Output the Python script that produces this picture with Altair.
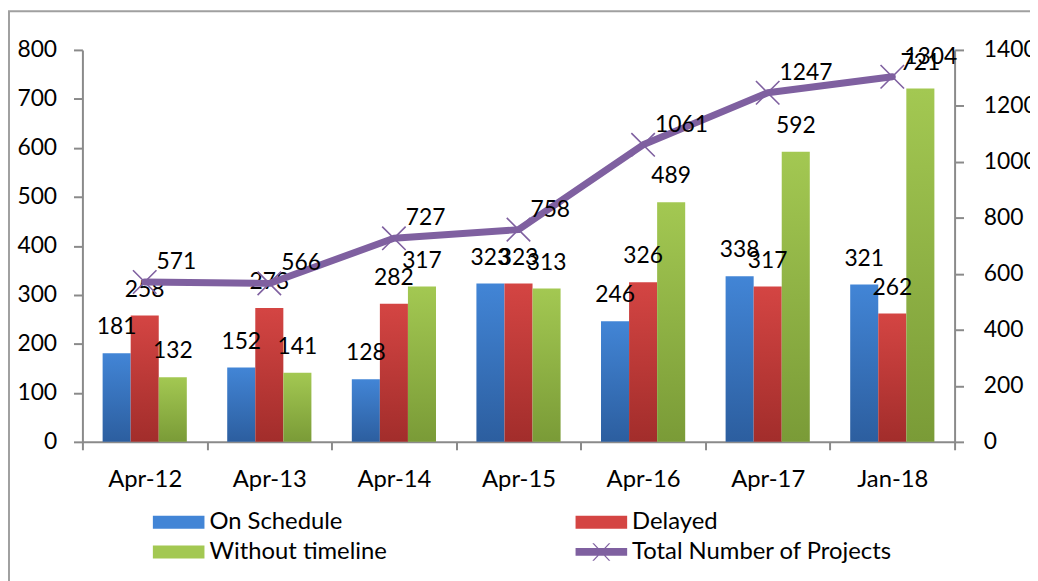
import altair as alt
import pandas as pd

categories = ["Apr-12", "Apr-13", "Apr-14", "Apr-15", "Apr-16", "Apr-17", "Jan-18"]
on_schedule = [181, 152, 128, 323, 246, 338, 321]
delayed = [258, 273, 282, 323, 326, 317, 262]
without_timeline = [132, 141, 317, 313, 489, 592, 721]
total_projects = [571, 566, 727, 758, 1061, 1247, 1304]

bar_series = ["On Schedule", "Delayed", "Without timeline"]
line_series = "Total Number of Projects"
purple = "#7f60a0"

grads = {
    "On Schedule": ("#4285d6", "#2c5e9f"),
    "Delayed": ("#d44543", "#a22d2b"),
    "Without timeline": ("#a3c852", "#7a9b37"),
}

rows = []
for i, c in enumerate(categories):
    for s, vals in zip(bar_series, [on_schedule, delayed, without_timeline]):
        rows.append({"category": c, "series": s, "value": vals[i]})
bars_df = pd.DataFrame(rows)
line_df = pd.DataFrame({"category": categories, "total": total_projects})

FONT = "Lato"
FS_NUM = 23
FS_TXT = 24
AX = "#8a8a8a"

x_enc = alt.X(
    "category:N",
    sort=categories,
    scale=alt.Scale(paddingInner=0, paddingOuter=0),
    axis=alt.Axis(
        title=None, labelAngle=0, labelFont=FONT, labelFontSize=FS_TXT, labelColor="black",
        domainColor=AX, domainWidth=2, tickColor=AX, tickWidth=2, tickSize=8,
        tickBand="extent", labelPadding=18,
    ),
)
xoff = alt.XOffset(
    "series:N", sort=bar_series,
    scale=alt.Scale(domain=bar_series, paddingInner=0, paddingOuter=0.72),
)
y_left = alt.Y(
    "value:Q",
    scale=alt.Scale(domain=[0, 800], nice=False),
    axis=alt.Axis(
        title=None, values=list(range(0, 801, 100)), grid=False,
        labelFont=FONT, labelFontSize=FS_NUM, labelColor="black",
        domainColor=AX, domainWidth=2, tickColor=AX, tickWidth=2, tickSize=9,
        labelPadding=17,
    ),
)

base_bars = alt.Chart(bars_df)

bar_layers = []
for s in bar_series:
    top, bot = grads[s]
    g = alt.LinearGradient(
        gradient="linear",
        stops=[alt.GradientStop(color=top, offset=0), alt.GradientStop(color=bot, offset=1)],
        x1=0, x2=0, y1=0, y2=1,
    )
    bar_layers.append(
        base_bars.transform_filter(alt.datum.series == s)
        .mark_bar(fill=g)
        .encode(x=x_enc, xOffset=xoff, y=y_left)
    )

bar_text = base_bars.mark_text(
    font=FONT, fontSize=FS_NUM, color="black", baseline="middle", align="center", dy=-26
).encode(x=x_enc, xOffset=xoff, y=y_left, text="value:Q")

# legend swatches: unit square of 13px, drawn 4x wider
sym_bar = "M-4,-1H4V1H-4Z"
sym_line = ("M-4,-0.6H4V0.6H-4Z "
            "M-1.4,-1.35L-1.15,-1.35L1.4,1.35L1.15,1.35Z "
            "M1.15,-1.35L1.4,-1.35L-1.15,1.35L-1.4,1.35Z")

leg_common = dict(
    title=None, orient="none", direction="vertical", rowPadding=6,
    labelFont=FONT, labelFontSize=FS_TXT, labelColor="black", labelOffset=19,
    symbolSize=169, symbolStrokeWidth=0, labelLimit=400, symbolOpacity=1,
)
col1 = ["On Schedule", "Without timeline"]
col2 = ["Delayed", line_series]
legend_df = pd.DataFrame({"s1": col1, "s2": col2})

legend_a = alt.Chart(legend_df).transform_filter("false").mark_point(filled=True, opacity=1).encode(
    color=alt.Color(
        "s1:N", sort=col1,
        scale=alt.Scale(domain=col1, range=[grads[col1[0]][0], grads[col1[1]][0]]),
        legend=alt.Legend(legendX=85, legendY=464, symbolType=sym_bar, **leg_common),
    )
)
legend_b = alt.Chart(legend_df).transform_filter("false").mark_point(filled=True, opacity=1).encode(
    fill=alt.Fill(
        "s2:N", sort=col2,
        scale=alt.Scale(domain=col2, range=[grads["Delayed"][0], purple]),
        legend=alt.Legend(legendX=511, legendY=464, **leg_common),
    ),
    shape=alt.Shape(
        "s2:N", sort=col2,
        scale=alt.Scale(domain=col2, range=[sym_bar, sym_line]),
        legend=alt.Legend(legendX=511, legendY=464, **leg_common),
    ),
)

border = alt.Chart(alt.Data(values=[{"a": 1}])).mark_rect(
    fill=None, stroke="#a0a0a0", strokeWidth=2
).encode(x=alt.value(-74), x2=alt.value(1100), y=alt.value(-39), y2=alt.value(700))

left = alt.layer(border, *bar_layers, bar_text, legend_a, legend_b)

y_right = alt.Y(
    "total:Q",
    scale=alt.Scale(domain=[0, 1400], nice=False),
    axis=alt.Axis(
        title=None, orient="right", values=list(range(0, 1401, 200)), grid=False,
        format="d",
        labelFont=FONT, labelFontSize=FS_NUM, labelColor="black",
        domainColor=AX, domainWidth=2, tickColor=AX, tickWidth=2, tickSize=9,
        labelPadding=20,
    ),
)
base_line = alt.Chart(line_df)
line = base_line.mark_line(color=purple, strokeWidth=7, strokeCap="round", strokeJoin="round").encode(
    x=x_enc, y=y_right
)
pts = base_line.mark_point(
    shape="M-1,-1L1,1M-1,1L1,-1", size=560, filled=False, color=purple, strokeWidth=1.6, opacity=1
).encode(x=x_enc, y=y_right)
line_text = base_line.mark_text(
    font=FONT, fontSize=FS_NUM, color="black", align="left", baseline="middle", dx=12, dy=-20
).encode(x=x_enc, y=y_right, text="total:Q")
right = alt.layer(line, pts, line_text)

chart = alt.layer(left, right).resolve_scale(y="independent").properties(
    width=879, height=395,
    autosize=alt.AutoSizeParams(type="none"),
    padding={"left": 75, "top": 40, "right": 76, "bottom": 138},
).configure_view(stroke=None)

chart.save("out.html", embed_options={"renderer": "svg", "actions": False})
